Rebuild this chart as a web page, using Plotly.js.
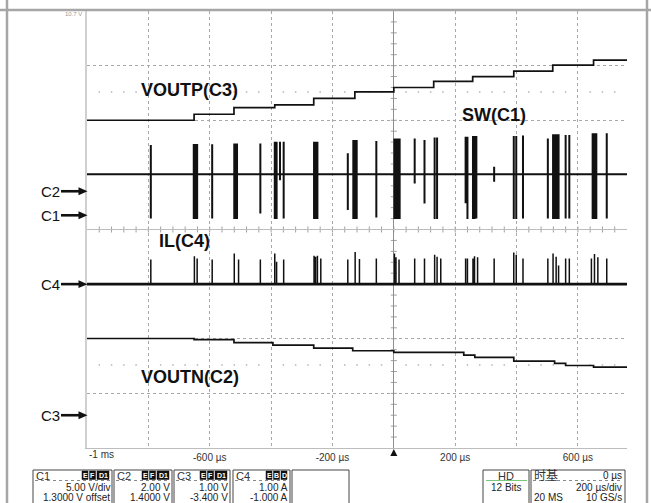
<!DOCTYPE html>
<html><head><meta charset="utf-8">
<script src="https://cdn.plot.ly/plotly-3.0.1.min.js"></script>
<style>html,body{margin:0;padding:0;background:#fff;}#chart{width:651px;height:503px;}</style>
</head><body><div id="chart"></div>
<script>
// ---------------- data ----------------
const timeRangeUs = [-1000, 760];
const gridTimesUs = [-800, -600, -400, -200, 0, 200, 400, 600];
const timeTickLabels = ['', '-600 µs', '', '-200 µs', '', '200 µs', '', '600 µs'];
const firstTickLabel = '-1 ms';

// channel settings (scope panel)
const channelNames = ['C1', 'C2', 'C3', 'C4'];
const voltsPerDiv = [5.0, 2.0, 1.0, 1.0];
const offsets = [1.3, 1.4, -3.4, -1.0];
const channelBadges = [['E', 'F', 'D1'], ['E', 'F', 'D1'], ['E', 'F', 'D1'], ['E', 'B', 'D']];
const scaleTexts = ['5.00 V/div', '2.00 V', '1.00 V', '1.00 A'];
const offsetTexts = ['1.3000 V offset', '1.4000 V', '-3.400 V', '-1.000 A'];
const traceLabels = ['SW(C1)', 'VOUTN(C2)', 'VOUTP(C3)', 'IL(C4)'];
const acqTexts = ['HD', '12 Bits'];
const timebaseTexts = ['时基', '0 µs', '200 µs/div', '20 MS', '10 GS/s'];
const topLeftText = '10.7 V';

// VOUTP (C3) staircase
const voutpStepTimesUs = [-651, -521, -388, -261, -127, 0, 130, 257, 391, 518, 651];
const voutpLevelsV = [5.40, 5.51, 5.63, 5.68, 5.80, 5.92, 6.00, 6.11, 6.20, 6.30, 6.41, 6.50];
// VOUTN (C2) staircase
const voutnStepTimesUs = [-651, -521, -394, -261, -134, 0, 228, 264, 391, 524, 560, 651];
const voutnLevelsV = [-5.39, -5.43, -5.54, -5.63, -5.74, -5.84, -5.90, -6.00, -6.08, -6.22, -6.30, -6.38, -6.44];
// SW (C1) switching bursts
const swIdleV = 3.75;
const swPulseTimesUs = [-792,-652,-647,-641,-592,-520,-515,-511,-435,-388,
  -382,-371,-359,-260,-255,-249,-150,-132,-126,-121,
  -57,2,7,13,19,68,100,133,141,234,
  240,258,263,269,327,391,399,421,502,519,
  525,531,537,560,572,648,654,660,694];
const swPulseHighV = [6.43,6.52,6.52,6.52,6.50,6.58,6.58,6.58,6.58,6.73,
  6.73,6.73,6.73,6.73,6.73,6.73,5.67,6.89,6.89,6.89,
  6.80,7.04,7.04,7.04,7.04,7.04,6.89,7.13,7.13,7.20,
  7.20,7.25,7.25,7.25,4.44,7.25,7.25,7.30,7.04,7.41,
  7.41,7.41,7.41,7.35,7.35,7.50,7.50,7.50,7.50];
const swPulseLowV = [-0.30,-0.35,-0.35,-0.33,-0.30,-0.35,-0.35,-0.33,0.17,-0.35,
  -0.35,3.20,-0.30,-0.35,-0.35,-0.33,0.48,-0.35,-0.35,-0.33,
  -0.20,-0.35,-0.35,-0.35,-0.33,2.90,1.09,-0.35,-0.35,1.10,
  -0.35,-0.35,-0.35,-0.30,3.07,-0.35,-0.33,-0.30,-0.30,-0.35,
  -0.35,-0.35,-0.33,-0.30,-0.30,-0.35,-0.35,-0.33,-0.30];
// IL (C4) inductor current pulses
const ilIdleA = 0;
const ilPulseTimesUs = [-792,-650,-641,-592,-520,-506,-435,-388,-382,-359,
  -260,-255,-249,-238,-150,-126,-112,-57,2,7,
  17,68,100,133,141,153,234,240,258,263,
  273,327,391,399,421,502,519,529,537,560,
  572,644,654,665,694];
const ilPulsePeakA = [0.45,0.51,0.47,0.45,0.56,0.45,0.45,0.56,0.41,0.45,
  0.52,0.50,0.52,0.47,0.45,0.59,0.46,0.47,0.56,0.49,
  0.45,0.47,0.47,0.54,0.50,0.47,0.47,0.47,0.47,0.51,
  0.49,0.47,0.58,0.54,0.47,0.47,0.56,0.50,0.34,0.47,
  0.47,0.47,0.55,0.49,0.47];

// ---------------- layout geometry ----------------
const FONT = 'Liberation Sans, Arial, sans-serif';
const L = 87, T = 11, W = 540, H = 437, FIG_W = 651, FIG_H = 503;
const DIVS = 8;
const px = X => (X - L) / W;
const py = Y => (T + H - Y) / H;
const tToX = t => L + (t - timeRangeUs[0]) / (timeRangeUs[1] - timeRangeUs[0]) * W;
const INK = '#111';

function stepTrace(times, levels, yaxis) {
  const x = [timeRangeUs[0]].concat(times, [timeRangeUs[1]]);
  const y = levels.concat([levels[levels.length - 1]]);
  return {x, y, yaxis, type: 'scatter', mode: 'lines', line: {shape: 'hv', color: INK, width: 1.7}, hoverinfo: 'skip'};
}
function pulseTrace(idle, times, highs, lows, yaxis, w) {
  const x = [timeRangeUs[0]], y = [idle];
  times.forEach((t, i) => {
    x.push(t, t, t, t);
    y.push(idle, highs[i], lows ? lows[i] : idle, idle);
  });
  x.push(timeRangeUs[1]); y.push(idle);
  return {x, y, yaxis, type: 'scatter', mode: 'lines', line: {color: INK, width: w}, hoverinfo: 'skip'};
}
function chanRange(i) {
  return [-DIVS / 2 * voltsPerDiv[i] - offsets[i], DIVS / 2 * voltsPerDiv[i] - offsets[i]];
}

const traces = [
  {x: [], y: [], type: 'scatter', mode: 'lines', hoverinfo: 'skip'},
  stepTrace(voutpStepTimesUs, voutpLevelsV, 'y4'),
  stepTrace(voutnStepTimesUs, voutnLevelsV, 'y3'),
  pulseTrace(swIdleV, swPulseTimesUs, swPulseHighV, swPulseLowV, 'y2', 2.0),
  pulseTrace(ilIdleA, ilPulseTimesUs, ilPulsePeakA, null, 'y5', 1.5),
  {x: timeRangeUs, y: [ilIdleA, ilIdleA], yaxis: 'y5', type: 'scatter', mode: 'lines', line: {color: INK, width: 2.6}, hoverinfo: 'skip'}
];

const layout = {
  width: FIG_W, height: FIG_H,
  margin: {l: L, r: FIG_W - L - W, t: T, b: FIG_H - T - H, pad: 0},
  paper_bgcolor: '#fff', plot_bgcolor: 'rgba(0,0,0,0)', showlegend: false,
  font: {family: FONT, color: '#333'},
  xaxis: {
    range: timeRangeUs, tickmode: 'array', tickvals: gridTimesUs, ticktext: timeTickLabels,
    ticks: '', showgrid: true, gridcolor: '#a8a8a8', griddash: 'dot', gridwidth: 1,
    zeroline: true, zerolinecolor: '#8f8f8f', zerolinewidth: 1,
    showline: true, linecolor: '#bdbdbd', linewidth: 1,
    tickfont: {family: FONT, size: 10, color: '#333'}, fixedrange: true
  },
  yaxis: {
    range: [-DIVS / 2, DIVS / 2], tickmode: 'linear', tick0: 0, dtick: 1, showticklabels: false, ticks: '',
    showgrid: true, gridcolor: '#a8a8a8', griddash: 'dot', gridwidth: 1,
    zeroline: true, zerolinecolor: '#bdbdbd', zerolinewidth: 1,
    showline: true, linecolor: '#d0d0d0', linewidth: 2, fixedrange: true
  },
  yaxis2: {overlaying: 'y', range: chanRange(0), visible: false, fixedrange: true},
  yaxis3: {overlaying: 'y', range: chanRange(1), visible: false, fixedrange: true},
  yaxis4: {overlaying: 'y', range: chanRange(2), visible: false, fixedrange: true},
  yaxis5: {overlaying: 'y', range: chanRange(3), visible: false, fixedrange: true},
  shapes: [], annotations: []
};

const S = layout.shapes, A = layout.annotations;
function line(X0, Y0, X1, Y1, color, width, dash) {
  S.push({type: 'line', xref: 'paper', yref: 'paper', x0: px(X0), y0: py(Y0), x1: px(X1), y1: py(Y1),
    line: {color, width, dash: dash || 'solid'}, layer: 'above'});
}
function rect(X0, Y0, X1, Y1, lineColor, fill, lw) {
  S.push({type: 'rect', xref: 'paper', yref: 'paper', x0: px(X0), y0: py(Y0), x1: px(X1), y1: py(Y1),
    line: {color: lineColor, width: lw == null ? 1 : lw}, fillcolor: fill || 'rgba(0,0,0,0)', layer: 'above'});
}
function poly(pts, color) {
  const d = pts.map((p, i) => (i ? 'L' : 'M') + px(p[0]).toFixed(5) + ',' + py(p[1]).toFixed(5)).join('') + 'Z';
  S.push({type: 'path', xref: 'paper', yref: 'paper', path: d, fillcolor: color, line: {width: 0}, layer: 'above'});
}
function segs(list, color, width, layer) {
  const d = list.map(s => 'M' + px(s[0]).toFixed(5) + ',' + py(s[1]).toFixed(5) + 'L' + px(s[2]).toFixed(5) + ',' + py(s[3]).toFixed(5)).join('');
  S.push({type: 'path', xref: 'paper', yref: 'paper', path: d, line: {color, width}, layer: layer || 'below'});
}
function txt(text, X, Y, anchor, size, opts) {
  opts = opts || {};
  A.push({xref: 'paper', yref: 'paper', x: px(X), y: py(Y), text, showarrow: false,
    xanchor: anchor, yanchor: 'middle', borderpad: 0, borderwidth: 0,
    font: {family: opts.family || FONT, size, color: opts.color || '#222', weight: opts.weight || 'normal'}});
}

// graticule ticks (scope screen decoration): every 1/5 division
const CY = T + H / 2, X0 = tToX(0), DIVH = H / DIVS;
const hTicks = [], vTicks = [], dotsUp = [], dotsDn = [];
for (let t = -960; t < timeRangeUs[1]; t += 40) {
  const X = tToX(t);
  hTicks.push([X, CY - 3, X, CY + 3]);
  if (t % 200 !== 0) {
    dotsUp.push([X, 91, X, 93]);
    dotsDn.push([X, 364, X, 366]);
  }
}
for (let k = -19; k < 20; k++) {
  const Y = CY - k * DIVH / 5;
  vTicks.push([X0 - 3, Y, X0 + 3, Y]);
}
segs(hTicks, '#a0a0a0', 1);
segs(vTicks, '#a0a0a0', 1);
segs(dotsUp, '#c8c8c8', 1.5);
segs(dotsDn, '#c8c8c8', 1.5);

// outer frame
line(0, 10, FIG_W, 10, '#a6a6a6', 2.5);
line(7, 0, 7, FIG_H, '#a6a6a6', 2.5);
line(647, 0, 647, FIG_H, '#a6a6a6', 2.5);
txt(topLeftText, 73, 14, 'center', 6, {color: '#9a9a9a'});

// trace labels
const labelPos = [[462, 115], [141, 377], [141, 89.5], [159, 241]];
traceLabels.forEach((t, i) => txt(t, labelPos[i][0], labelPos[i][1], 'left', 18, {weight: 'bold', color: '#111'}));

// ground markers from channel offsets
channelNames.forEach((n, i) => {
  const posDiv = offsets[i] / voltsPerDiv[i];
  const Y = CY - posDiv * DIVH;
  line(61, Y, 80, Y, '#111', 2.6);
  poly([[78.5, Y - 4], [87.5, Y], [78.5, Y + 4]], '#111');
  txt(n, 60, Y, 'right', 15, {color: '#111'});
});

// first time label and trigger marker
A.push({xref: 'x', yref: 'paper', x: timeRangeUs[0], y: py(454), text: firstTickLabel, showarrow: false,
  xanchor: 'left', yanchor: 'middle', xshift: 1, borderpad: 0, font: {family: FONT, size: 10, color: '#333'}});
poly([[X0 - 3.5, 456], [X0, 449], [X0 + 3.5, 456]], '#111');

// channel panel boxes
const boxX = [[33, 112], [114, 172], [174, 230], [233, 290]];
const BTOP = 470, BBOT = 515;
channelNames.forEach((n, i) => {
  const [a, b] = boxX[i];
  rect(a, BTOP, b, BBOT, '#444', null, 1);
  line(a + 2, 480.5, b - 2, 480.5, '#888', 1, 'dot');
  txt(n, a + 3, 475.5, 'left', 11, {color: '#333'});
  let r = b - 3;
  channelBadges[i].slice().reverse().forEach(lbl => {
    const w = lbl.length > 1 ? 12 : 6;
    rect(r - w, 471, r, 479.5, '#111', '#111', 0.5);
    txt(lbl, r - w / 2, 475.3, 'center', 7, {color: '#fff', weight: 'bold'});
    r -= w + 1.5;
  });
  txt(scaleTexts[i], b - 2, 487.5, 'right', 10);
  txt(offsetTexts[i], b - 2, 497.5, 'right', 10);
});
rect(292, BTOP, 349, BBOT, '#444', null, 1);
rect(483, BTOP, 529, BBOT, '#444', null, 1);
txt(acqTexts[0], 506, 475.5, 'center', 11, {color: '#333'});
line(486, 480.5, 527, 480.5, '#79c779', 1);
txt(acqTexts[1], 506, 487.5, 'center', 10);
rect(531, BTOP, 625, BBOT, '#444', null, 1);
line(533, 480.5, 623, 480.5, '#888', 1, 'dot');
txt(timebaseTexts[0], 534, 475, 'left', 12, {family: 'Noto Sans CJK SC, sans-serif', color: '#333'});
txt(timebaseTexts[1], 622, 475.5, 'right', 10);
txt(timebaseTexts[2], 622, 487.5, 'right', 10);
txt(timebaseTexts[3], 534, 497.5, 'left', 10);
txt(timebaseTexts[4], 622, 497.5, 'right', 10);

Plotly.newPlot('chart', traces, layout, {displayModeBar: false, staticPlot: true});
</script>
</body></html>
